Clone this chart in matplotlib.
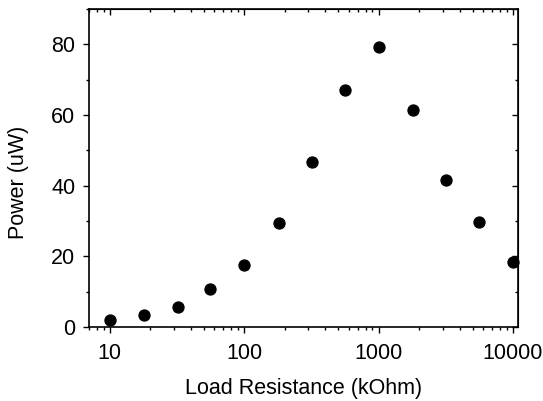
import numpy as np
from matplotlib import pyplot as plt
from matplotlib.ticker import LogLocator, MultipleLocator, FixedLocator, FixedFormatter

plt.rcParams['font.family'] = ['Liberation Sans', 'DejaVu Sans']

# Нагрузка (кОм) и мощность (мкВт)
load_kohm = [10, 18, 32, 56, 100, 180, 320, 560, 1000, 1800, 3200, 5600, 10000]
power_uw = [2.0, 3.4, 5.7, 10.7, 17.5, 29.5, 46.6, 67.2, 79.3, 61.3, 41.6, 29.8, 18.3]

x_ticks = [10, 100, 1000, 10000]
x_tick_labels = ['10', '100', '1000', '10000']

fig = plt.figure(figsize=(5.43, 4.01), dpi=100)
ax = fig.add_axes([0.164, 0.1845, 0.79, 0.793])

ax.scatter(load_kohm, power_uw, s=62, color='black', zorder=3, clip_on=False)

ax.set_xscale('log')
ax.set_xlim(7, 10900)
ax.set_ylim(0, 90)

ax.xaxis.set_major_locator(FixedLocator(x_ticks))
ax.xaxis.set_major_formatter(FixedFormatter(x_tick_labels))
ax.xaxis.set_minor_locator(LogLocator(base=10, subs=np.arange(2, 10)))
ax.yaxis.set_major_locator(MultipleLocator(20))
ax.yaxis.set_minor_locator(MultipleLocator(10))

for s in ax.spines.values():
    s.set_linewidth(1.2)

ax.tick_params(which='both', direction='out', top=False, right=False,
               labelsize=15.5, width=1.0)
ax.tick_params(which='major', length=4.5)
ax.tick_params(which='minor', length=2.5)
ax.tick_params(axis='x', which='major', pad=7)
ax.tick_params(axis='y', which='major', pad=5.5)

# зеркальные деления сверху и справа (внутрь)
ax_top = ax.secondary_xaxis('top')
ax_top.xaxis.set_major_locator(FixedLocator(x_ticks))
ax_top.xaxis.set_minor_locator(LogLocator(base=10, subs=np.arange(2, 10)))
ax_top.tick_params(which='both', direction='in', labeltop=False, width=1.0)
ax_top.tick_params(which='major', length=4.5)
ax_top.tick_params(which='minor', length=2.5)

ax_right = ax.secondary_yaxis('right')
ax_right.yaxis.set_major_locator(MultipleLocator(20))
ax_right.yaxis.set_minor_locator(MultipleLocator(10))
ax_right.tick_params(which='both', direction='in', labelright=False, width=1.0)
ax_right.tick_params(which='major', length=4.5)
ax_right.tick_params(which='minor', length=2.5)

ax.set_xlabel('Load Resistance (kOhm)', fontsize=15.5, labelpad=10)
ax.set_ylabel('Power (uW)', fontsize=15.5)
ax.yaxis.set_label_coords(-0.14, 0.455)

plt.savefig('out.png', dpi=100)
